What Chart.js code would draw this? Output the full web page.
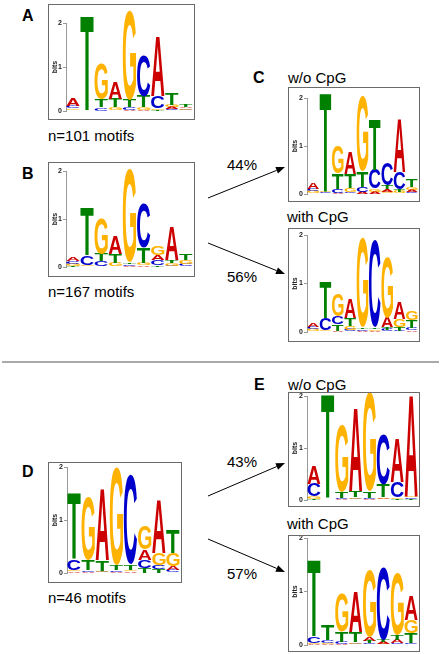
<!DOCTYPE html>
<html>
<head>
<meta charset="utf-8">
<script src="https://cdn.jsdelivr.net/npm/chart.js@4.4.0/dist/chart.umd.min.js"></script>
<style>
  html, body { margin: 0; padding: 0; background: #fff; }
  body { width: 441px; height: 654px; position: relative; overflow: hidden; }
  .box { position: absolute; border: 1px solid #6a6a6a; box-sizing: border-box; background: #fff; }
  .box canvas { position: absolute; left: 0; top: 0; }
  svg { position: absolute; left: 0; top: 0; }
</style>
</head>
<body>
<svg width="441" height="654" font-family="'Liberation Sans', Arial, sans-serif">
  <g font-weight="bold" font-size="16">
    <text x="22" y="21">A</text>
    <text x="22" y="179">B</text>
    <text x="253" y="83">C</text>
    <text x="22" y="477">D</text>
    <text x="254" y="390">E</text>
  </g>
  <g font-size="15">
    <text x="48" y="141">n=101 motifs</text>
    <text x="48" y="297">n=167 motifs</text>
    <text x="48" y="603">n=46 motifs</text>
    <text x="288" y="83">w/o CpG</text>
    <text x="287" y="222">with CpG</text>
    <text x="288" y="390">w/o CpG</text>
    <text x="287" y="529">with CpG</text>
  </g>
  <g font-size="15" text-anchor="middle">
    <text x="242" y="170">44%</text>
    <text x="242" y="282">56%</text>
    <text x="242" y="467">43%</text>
    <text x="242" y="579">57%</text>
  </g>
  <line x1="2" y1="362" x2="439" y2="362" stroke="#555" stroke-width="1"/>
  <g id="arrows" stroke="#000" stroke-width="1" fill="#000"></g>
</svg>

<div class="box" id="boxA"><canvas id="logoA"></canvas></div>
<div class="box" id="boxB"><canvas id="logoB"></canvas></div>
<div class="box" id="boxCw"><canvas id="logoCw"></canvas></div>
<div class="box" id="boxCc"><canvas id="logoCc"></canvas></div>
<div class="box" id="boxD"><canvas id="logoD"></canvas></div>
<div class="box" id="boxEw"><canvas id="logoEw"></canvas></div>
<div class="box" id="boxEc"><canvas id="logoEc"></canvas></div>

<script>
// positions along the motif
const pos9 = ['1', '2', '3', '4', '5', '6', '7', '8', '9'];
const pos8 = ['1', '2', '3', '4', '5', '6', '7', '8'];
const yTicks = [0, 1, 2];

// A: n=101 motifs (bits per base)
const logoA_A = [0.18, 0.01, 0.01, 0.38, 0.03, 0.03, 1.36, 0.05, 0.04];
const logoA_C = [0.06, 0.01, 0.07, 0.02, 0.05, 0.92, 0.27, 0.04, 0.03];
const logoA_G = [0.04, 0.01, 0.82, 0.06, 2.05, 0.05, 0.04, 0.05, 0.03];
const logoA_T = [0.02, 2.15, 0.17, 0.20, 0.17, 0.25, 0.03, 0.25, 0.05];

// B: n=167 motifs
const logoB_A = [0.08, 0.02, 0.02, 0.37, 0.03, 0.04, 0.11, 0.69, 0.02];
const logoB_C = [0.05, 0.20, 0.10, 0.02, 0.03, 0.92, 0.10, 0.03, 0.04];
const logoB_G = [0.04, 0.02, 0.73, 0.07, 1.95, 0.04, 0.19, 0.06, 0.09];
const logoB_T = [0.03, 1.00, 0.15, 0.18, 0.03, 0.32, 0.04, 0.06, 0.12];

// C: w/o CpG (44%)
const logoCw_A = [0.14, 0.02, 0.03, 0.46, 0.05, 0.05, 0.06, 1.10, 0.05];
const logoCw_C = [0.05, 0.02, 0.07, 0.04, 0.10, 0.40, 0.45, 0.35, 0.04];
const logoCw_G = [0.04, 0.02, 0.58, 0.08, 1.55, 0.06, 0.05, 0.05, 0.06];
const logoCw_T = [0.02, 2.05, 0.33, 0.30, 0.33, 1.05, 0.08, 0.05, 0.15];

// C: with CpG (56%)
const logoCc_A = [0.07, 0.02, 0.03, 0.40, 0.03, 0.03, 0.20, 0.35, 0.04];
const logoCc_C = [0.05, 0.25, 0.15, 0.05, 0.03, 1.80, 0.05, 0.03, 0.05];
const logoCc_G = [0.04, 0.02, 0.45, 0.08, 1.85, 0.03, 1.25, 0.15, 0.20];
const logoCc_T = [0.02, 0.75, 0.14, 0.15, 0.03, 0.03, 0.05, 0.08, 0.15];

// D: n=46 motifs
const logoD_A = [0.03, 0.02, 1.35, 0.02, 0.03, 0.20, 1.00, 0.08];
const logoD_C = [0.20, 0.03, 0.02, 0.03, 1.70, 0.15, 0.08, 0.05];
const logoD_G = [0.03, 1.20, 0.02, 1.85, 0.03, 0.45, 0.22, 0.25];
const logoD_T = [1.25, 0.20, 0.20, 0.10, 0.10, 0.10, 0.07, 0.45];

// E: w/o CpG (43%)
const logoEw_A = [0.34, 0.01, 0.02, 1.60, 0.02, 0.03, 0.85, 1.95];
const logoEw_C = [0.24, 0.01, 0.02, 0.02, 0.02, 0.95, 0.30, 0.03];
const logoEw_G = [0.05, 0.01, 1.30, 0.03, 1.90, 0.02, 0.03, 0.03];
const logoEw_T = [0.02, 2.00, 0.12, 0.12, 0.12, 0.25, 0.02, 0.02];

// E: with CpG (57%)
const logoEc_A = [0.02, 0.02, 0.02, 0.75, 0.08, 0.04, 0.06, 0.45];
const logoEc_C = [0.12, 0.05, 0.04, 0.02, 0.03, 1.35, 0.03, 0.04];
const logoEc_G = [0.02, 0.02, 0.70, 0.03, 1.25, 0.02, 1.15, 0.25];
const logoEc_T = [1.42, 0.28, 0.20, 0.20, 0.04, 0.04, 0.10, 0.18];

const letterColors = { A: '#cc0000', C: '#0000cc', G: '#ffb300', T: '#008000' };
const FONT = "'Liberation Sans', Arial, sans-serif";

// arrows between panels
const arrows = [
    [208, 198, 285, 167],
    [208, 243, 285, 274],
    [208, 496, 285, 463],
    [208, 539, 285, 572]
];

// draws each stacked bar as a stretched letter
const letterPlugin = {
    id: 'logoLetters',
    afterDatasetsDraw(chart) {
        const ctx = chart.ctx;
        ctx.save();
        ctx.font = 'bold 100px ' + FONT;
        ctx.textAlign = 'left';
        ctx.textBaseline = 'alphabetic';
        chart.data.datasets.forEach((ds, i) => {
            chart.getDatasetMeta(i).data.forEach((bar, j) => {
                const { x, y, base, width } = bar.getProps(['x', 'y', 'base', 'width'], true);
                const h = base - y;
                if (h < 0.4) return;
                const letter = ds.letters[j];
                const m = ctx.measureText(letter);
                const gw = m.actualBoundingBoxLeft + m.actualBoundingBoxRight;
                const gh = m.actualBoundingBoxAscent + m.actualBoundingBoxDescent;
                ctx.save();
                ctx.translate(x - width / 2, y);
                ctx.scale(width / gw, h / gh);
                ctx.fillStyle = letterColors[letter];
                ctx.fillText(letter, m.actualBoundingBoxLeft, m.actualBoundingBoxAscent);
                ctx.restore();
            });
        });
        ctx.restore();
    }
};

// logos put the smallest letter at the bottom, so each dataset is one rank
function buildLayers(labels, heights) {
    const letters = Object.keys(heights);
    const layers = letters.map(() => ({ data: [], letters: [] }));
    labels.forEach((_, i) => {
        const sorted = letters.slice().sort((a, b) => heights[a][i] - heights[b][i]);
        sorted.forEach((l, k) => {
            layers[k].data.push(heights[l][i]);
            layers[k].letters.push(l);
        });
    });
    return layers.map(l => ({
        data: l.data,
        letters: l.letters,
        backgroundColor: 'rgba(0,0,0,0)',
        borderWidth: 0,
        barPercentage: 0.94,
        categoryPercentage: 1,
        clip: false
    }));
}

function createLogo(id, labels, heights, g) {
    const box = document.getElementById('box' + id);
    box.style.left = g.left + 'px';
    box.style.top = g.top + 'px';
    box.style.width = (g.right - g.left) + 'px';
    box.style.height = (g.bottom - g.top) + 'px';
    const canvas = document.getElementById('logo' + id);
    canvas.width = g.right - g.left - 2;
    canvas.height = g.bottom - g.top - 2;

    const padTop = g.y2 - (g.top + 1);
    const padRight = (g.right - 1) - g.plotRight;
    const yw = g.axisX - (g.left + 1);
    const xh = (g.bottom - 1) - g.y0;

    new Chart(canvas.getContext('2d'), {
        type: 'bar',
        data: { labels: labels, datasets: buildLayers(labels, heights) },
        options: {
            responsive: false,
            animation: false,
            layout: { padding: { top: padTop, right: padRight, left: 0, bottom: 0 } },
            plugins: { legend: { display: false }, tooltip: { enabled: false } },
            scales: {
                x: {
                    stacked: true,
                    grid: { display: false },
                    border: { display: false },
                    ticks: { autoSkip: false, minRotation: 90, maxRotation: 90, padding: 1, color: '#222', font: { size: 6, family: FONT } },
                    afterFit: s => { s.height = xh; s.paddingLeft = 0; s.paddingRight = 0; }
                },
                y: {
                    stacked: true,
                    min: 0,
                    max: 2,
                    afterBuildTicks: s => { s.ticks = yTicks.map(v => ({ value: v })); },
                    ticks: { padding: 1, color: '#222', font: { size: 7, weight: 'bold', family: FONT } },
                    grid: { drawOnChartArea: false, drawTicks: true, tickLength: 3, color: '#999' },
                    border: { display: true, color: '#999' },
                    title: { display: true, text: 'bits', padding: { top: 2, bottom: 0 }, color: '#222', font: { size: 7, weight: 'bold', family: FONT } },
                    afterFit: s => { s.width = yw; s.paddingTop = 0; s.paddingBottom = 0; }
                }
            }
        },
        plugins: [letterPlugin]
    });
}

createLogo('A', pos9, { A: logoA_A, C: logoA_C, G: logoA_G, T: logoA_T },
    { left: 48, top: 4, right: 195, bottom: 120, axisX: 66, y2: 23, y0: 111, plotRight: 193 });
createLogo('B', pos9, { A: logoB_A, C: logoB_C, G: logoB_G, T: logoB_T },
    { left: 48, top: 162, right: 195, bottom: 277, axisX: 66, y2: 171, y0: 267, plotRight: 193 });
createLogo('Cw', pos9, { A: logoCw_A, C: logoCw_C, G: logoCw_G, T: logoCw_T },
    { left: 288, top: 87, right: 420, bottom: 202, axisX: 307, y2: 98, y0: 194, plotRight: 418 });
createLogo('Cc', pos9, { A: logoCc_A, C: logoCc_C, G: logoCc_G, T: logoCc_T },
    { left: 288, top: 228, right: 420, bottom: 342, axisX: 307, y2: 235, y0: 332, plotRight: 418 });
createLogo('D', pos8, { A: logoD_A, C: logoD_C, G: logoD_G, T: logoD_T },
    { left: 48, top: 462, right: 182, bottom: 583, axisX: 67, y2: 467, y0: 573, plotRight: 180 });
createLogo('Ew', pos8, { A: logoEw_A, C: logoEw_C, G: logoEw_G, T: logoEw_T },
    { left: 288, top: 392, right: 420, bottom: 507, axisX: 307, y2: 396, y0: 500, plotRight: 418 });
createLogo('Ec', pos8, { A: logoEc_A, C: logoEc_C, G: logoEc_G, T: logoEc_T },
    { left: 288, top: 535, right: 420, bottom: 652, axisX: 307, y2: 538, y0: 645, plotRight: 418 });

// arrows with filled heads
const ns = 'http://www.w3.org/2000/svg';
const arrowGroup = document.getElementById('arrows');
arrows.forEach(([x1, y1, x2, y2]) => {
    const ang = Math.atan2(y2 - y1, x2 - x1);
    const len = 9, half = 3.5;
    const bx = x2 - len * Math.cos(ang), by = y2 - len * Math.sin(ang);
    const line = document.createElementNS(ns, 'line');
    line.setAttribute('x1', x1); line.setAttribute('y1', y1);
    line.setAttribute('x2', bx); line.setAttribute('y2', by);
    arrowGroup.appendChild(line);
    const head = document.createElementNS(ns, 'polygon');
    const px = -Math.sin(ang) * half, py = Math.cos(ang) * half;
    head.setAttribute('points', `${x2},${y2} ${bx + px},${by + py} ${bx - px},${by - py}`);
    head.setAttribute('stroke', 'none');
    arrowGroup.appendChild(head);
});
</script>
</body>
</html>
